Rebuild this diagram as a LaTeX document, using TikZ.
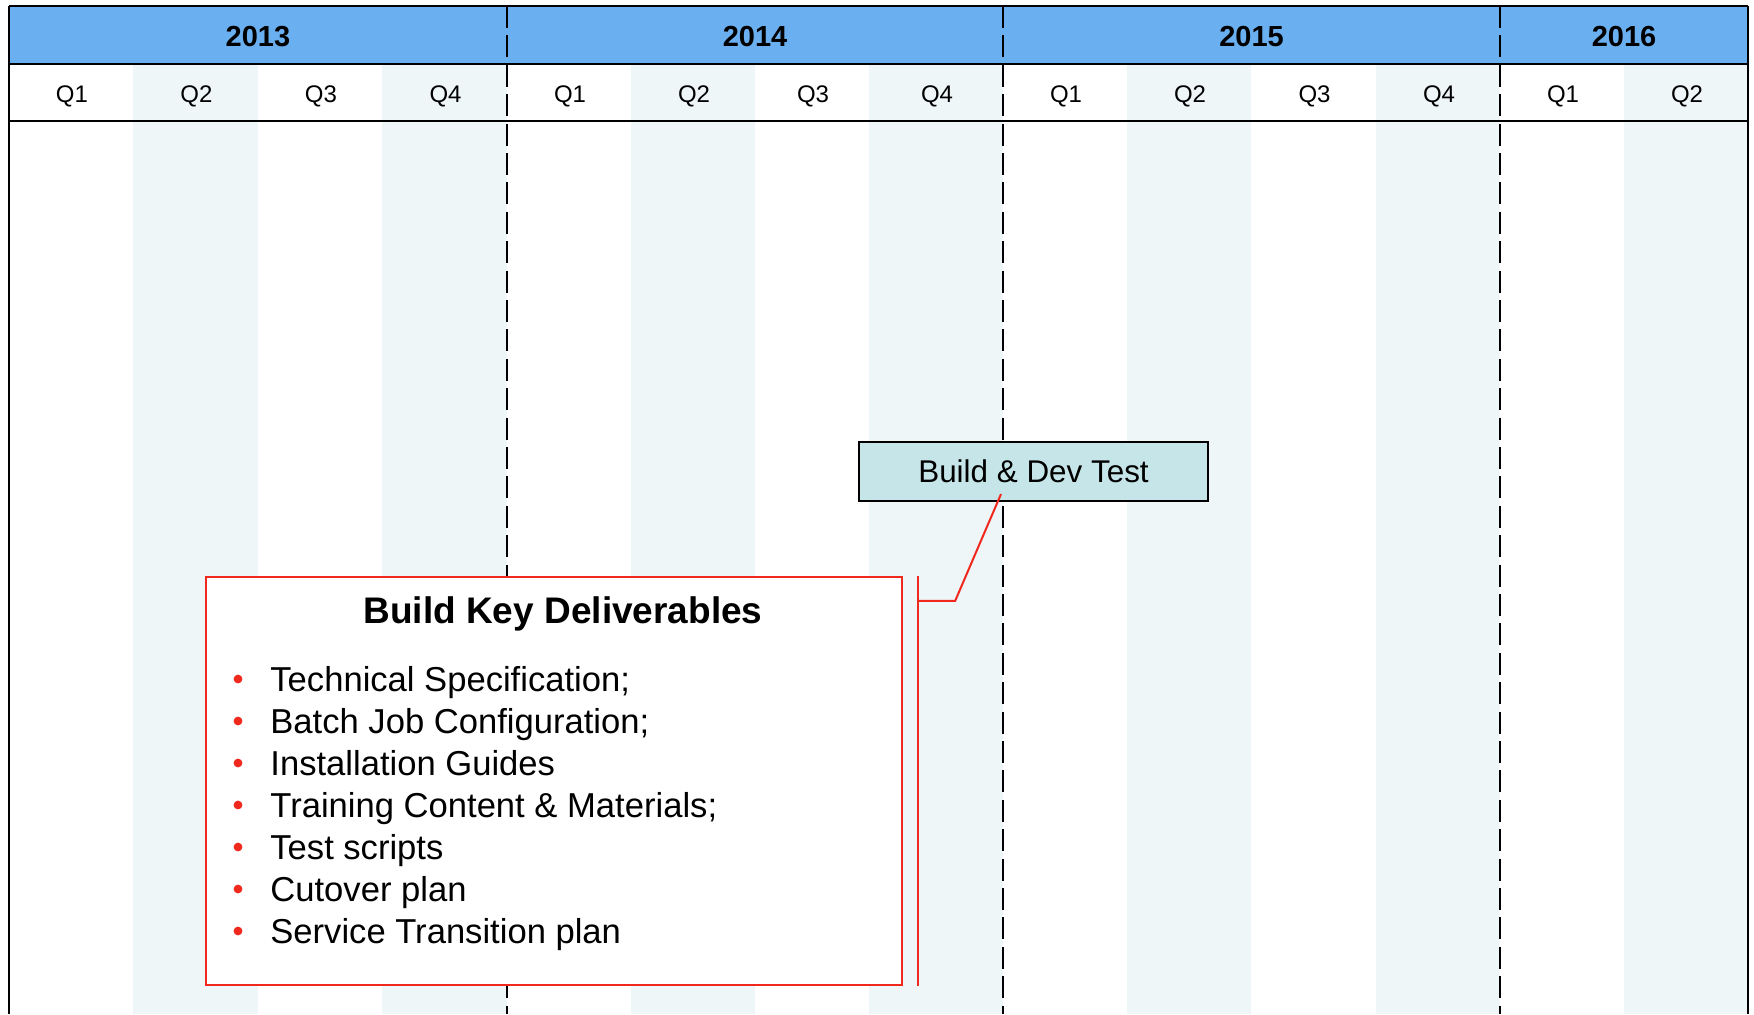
\documentclass[tikz,border=0pt]{standalone}
\usepackage{fontspec}
\setmainfont{Liberation Sans}
\usetikzlibrary{calc}
\definecolor{yearblue}{RGB}{106,176,240}
\definecolor{qshade}{RGB}{238,246,248}
\definecolor{buildfill}{RGB}{197,229,232}
\definecolor{calred}{RGB}{240,40,30}

\begin{document}
\begin{tikzpicture}
                [x=0.5pt, y=-0.5pt,
                ysty/.style={font=\fontsize{14.5}{17}\selectfont\bfseries, anchor=base, inner sep=0pt},
                qsty/.style={font=\fontsize{12}{14}\selectfont, anchor=base, inner sep=0pt},
                fsty/.style={draw=black, line width=1.3pt},
                dsty/.style={draw=black, line width=1.4pt, dash pattern=on 11pt off 3.7pt},
                bsty/.style={rectangle, draw=black, line width=1pt, fill=buildfill, minimum width=174.5pt, minimum height=29.5pt, inner sep=0pt, font=\fontsize{15.7}{18}\selectfont},
                rsty/.style={rectangle, draw=calred, line width=1.2pt, fill=white, minimum width=348pt, minimum height=204pt, inner sep=0pt},
                tsty/.style={font=\fontsize{18.5}{22}\selectfont\bfseries, anchor=base, inner sep=0pt},
                isty/.style={anchor=base west, font=\fontsize{17.3}{21}\selectfont, inner sep=0pt},
                dotsty/.style={circle, fill=calred, inner sep=0pt, minimum size=4.4pt},
                csty/.style={draw=calred, line width=1pt}]
                % background
                \useasboundingbox (0,0) rectangle (1754,1014);
                \fill[white] (0,0) rectangle (1754,1014);
                \foreach \a/\b in {133/258, 382/507, 631/755, 869/1003, 1127/1251, 1376/1500, 1624/1748}
                    \fill[qshade] (\a,64) rectangle (\b,1014);
                \fill[yearblue] (9,6) rectangle (1748,64);
                % years
                \node[ysty] (y13) at (258,46)    {2013};
                \node[ysty] (y14) at (755,46)    {2014};
                \node[ysty] (y15) at (1251.5,46) {2015};
                \node[ysty] (y16) at (1624,46)   {2016};
                % quarters
                \foreach \a/\b/\q [count=\k from 0] in {9/133/1, 133/258/2, 258/382/3, 382/507/4, 507/631/1, 631/755/2, 755/869/3, 869/1003/4, 1003/1127/1, 1127/1251/2, 1251/1376/3, 1376/1500/4, 1500/1624/1, 1624/1748/2}
                    \node[qsty] (q\k) at ({(\a+\b)/2+1},102.5) {Q\q};
                % grid
                \draw[fsty] (9,6) -- (1748,6);
                \draw[fsty] (9,64) -- (1748,64);
                \draw[fsty] (9,121) -- (1748,121);
                \draw[fsty] (9,6) -- (9,1014);
                \draw[fsty] (1748,6) -- (1748,1014);
                \foreach \x in {507,1003,1500}
                    \draw[dsty] (\x,6) -- (\x,1014);
                % task
                \node[bsty] (build) at (1033.5,471.5) {Build \& Dev Test};
                % callout
                \node[rsty] (deliv) at (554,781) {};
                \node[tsty] (title) at (563,623) {Build Key Deliverables};
                \foreach \t [count=\k from 0] in {{Technical Specification;}, {Batch Job Configuration;}, {Installation Guides}, {Training Content \& Materials;}, {Test scripts}, {Cutover plan}, {Service Transition plan}} {
                    \node[isty] (item\k) at (270,{691+42*\k}) {\t};
                    \node[dotsty] (dot\k) at (238,{679+42*\k}) {};
                }
                % connector
                \coordinate (bartop) at ($(deliv.north east)+(15,0)$);
                \coordinate (barbot) at ($(deliv.south east)+(15,0)$);
                \coordinate (barmid) at ($(deliv.north east)+(15,25)$);
                \coordinate (elbow)  at ($(barmid)+(37,0)$);
                \coordinate (tip)    at ($(build.south)+(-32.5,-8)$);
                \draw[csty] (bartop) -- (barbot);
                \draw[csty] (barmid) -- (elbow) -- (tip);
            \end{tikzpicture}
\end{document}
